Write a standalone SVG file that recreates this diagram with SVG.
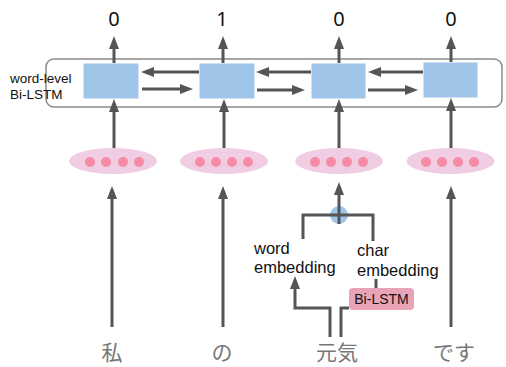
<svg xmlns="http://www.w3.org/2000/svg" width="506" height="367" viewBox="0 0 506 367">
  <defs>
    <marker id="head" markerUnits="userSpaceOnUse" markerWidth="14" markerHeight="11" refX="0" refY="5" orient="auto" overflow="visible">
      <path d="M0,0 L13,5 L0,10 z" fill="#555"/>
    </marker>
    <style>
      .wire { fill: none; stroke: #555; stroke-width: 3; }
      .arrow { fill: none; stroke: #555; stroke-width: 3; marker-end: url(#head); }
      .cell { fill: #9fc5e8; stroke: #ffffff; stroke-width: 1; }
      .emb { fill: #f0cde2; }
      .dot { fill: #f78aa6; }
      .lbl { font-family: "Liberation Sans", Arial, sans-serif; fill: #111; }
      .out { font-family: "Noto Sans", "Liberation Sans", sans-serif; font-size: 20px; fill: #111; text-anchor: middle; }
      .tok { font-family: "Noto Sans CJK JP", "Noto Sans", sans-serif; font-size: 21px; fill: #777; text-anchor: middle; }
    </style>
  </defs>

  <!-- word-level Bi-LSTM container -->
  <g id="bilstm-layer">
    <rect x="46" y="59" width="456" height="48" rx="8" fill="none" stroke="#8a8a8a" stroke-width="1.5"/>
    <text class="lbl" font-size="13.5" x="10" y="83">word-level</text>
    <text class="lbl" font-size="13.5" x="10" y="99">Bi-LSTM</text>
  </g>

  <!-- LSTM cells -->
  <g id="cell-1"><rect class="cell" x="83" y="63" width="56" height="36"/></g>
  <g id="cell-2"><rect class="cell" x="199" y="63" width="56" height="36"/></g>
  <g id="cell-3"><rect class="cell" x="311" y="63" width="55" height="36"/></g>
  <g id="cell-4"><rect class="cell" x="423" y="62" width="55" height="36"/></g>

  <!-- output labels -->
  <g id="out-1"><text class="out" x="114" y="26">0</text></g>
  <g id="out-2"><text class="out" x="222" y="26">1</text></g>
  <g id="out-3"><text class="out" x="339" y="26">0</text></g>
  <g id="out-4"><text class="out" x="451" y="26">0</text></g>

  <!-- token embeddings -->
  <g id="emb-1">
    <ellipse class="emb" cx="113" cy="161" rx="44" ry="13"/>
    <circle class="dot" cx="90" cy="162" r="5"/><circle class="dot" cx="106" cy="162" r="5"/>
    <circle class="dot" cx="123" cy="162" r="5"/><circle class="dot" cx="139" cy="162" r="5"/>
  </g>
  <g id="emb-2">
    <ellipse class="emb" cx="224" cy="161" rx="44" ry="13"/>
    <circle class="dot" cx="200" cy="162" r="5"/><circle class="dot" cx="216" cy="162" r="5"/>
    <circle class="dot" cx="232" cy="162" r="5"/><circle class="dot" cx="248" cy="162" r="5"/>
  </g>
  <g id="emb-3">
    <ellipse class="emb" cx="339" cy="161" rx="44" ry="13"/>
    <circle class="dot" cx="315" cy="162" r="5"/><circle class="dot" cx="331" cy="162" r="5"/>
    <circle class="dot" cx="347" cy="162" r="5"/><circle class="dot" cx="363" cy="162" r="5"/>
  </g>
  <g id="emb-4">
    <ellipse class="emb" cx="450.5" cy="161" rx="44" ry="13"/>
    <circle class="dot" cx="426" cy="162" r="5"/><circle class="dot" cx="442" cy="162" r="5"/>
    <circle class="dot" cx="458" cy="162" r="5"/><circle class="dot" cx="474" cy="162" r="5"/>
  </g>

  <!-- concatenation node -->
  <g id="concat">
    <circle cx="339" cy="215" r="9" fill="#9fc5e8"/>
  </g>

  <!-- character-level encoder -->
  <g id="char-bilstm">
    <rect x="349" y="288" width="65" height="22" rx="4" fill="#e9a3b6"/>
    <text class="lbl" font-size="14" x="381.5" y="304" text-anchor="middle">Bi-LSTM</text>
  </g>

  <g id="word-emb-label">
    <text class="lbl" font-size="16.5" x="254" y="254">word</text>
    <text class="lbl" font-size="16.5" x="254" y="273">embedding</text>
  </g>
  <g id="char-emb-label">
    <text class="lbl" font-size="16.5" x="357" y="256">char</text>
    <text class="lbl" font-size="16.5" x="357" y="276">embedding</text>
  </g>

  <!-- input tokens -->
  <g id="tok-1"><text class="tok" x="112" y="360">私</text></g>
  <g id="tok-2"><text class="tok" x="222" y="360">の</text></g>
  <g id="tok-3"><text class="tok" x="337" y="360">元気</text></g>
  <g id="tok-4"><text class="tok" x="454" y="360">です</text></g>

  <!-- connectors -->
  <g id="connectors">
    <!-- cell outputs -->
    <line class="arrow" x1="114" y1="63" x2="114" y2="49"/>
    <line class="arrow" x1="223" y1="63" x2="223" y2="49"/>
    <line class="arrow" x1="339" y1="63" x2="339" y2="49"/>
    <line class="arrow" x1="451" y1="62" x2="451" y2="49"/>

    <!-- backward direction -->
    <line class="arrow" x1="199" y1="72" x2="154" y2="72"/>
    <line class="arrow" x1="311" y1="72" x2="269" y2="72"/>
    <line class="arrow" x1="423" y1="72" x2="381" y2="72"/>

    <!-- forward direction -->
    <line class="arrow" x1="142" y1="89" x2="180" y2="89"/>
    <line class="arrow" x1="257" y1="90" x2="292" y2="90"/>
    <line class="arrow" x1="368" y1="90" x2="405" y2="90"/>

    <!-- embeddings into cells -->
    <line class="arrow" x1="114" y1="148" x2="114" y2="112"/>
    <line class="arrow" x1="224" y1="148" x2="224" y2="112"/>
    <line class="arrow" x1="339" y1="148" x2="339" y2="112"/>
    <line class="arrow" x1="451" y1="148" x2="451" y2="111"/>

    <!-- tokens into embeddings -->
    <line class="arrow" x1="112" y1="327" x2="112" y2="199"/>
    <line class="arrow" x1="223" y1="327" x2="223" y2="199"/>
    <line class="arrow" x1="451" y1="327" x2="451" y2="199"/>

    <!-- concatenation -->
    <line class="arrow" x1="339" y1="224" x2="339" y2="195"/>
    <polyline class="wire" points="303,239 303,215 373,215 373,241"/>

    <!-- word / char embedding paths -->
    <polyline class="arrow" points="330,337 330,308 295,308 295,289"/>
    <polyline class="wire" points="341,337 341,308 349,308"/>
    <line class="wire" x1="376" y1="288" x2="376" y2="279"/>
  </g>
</svg>
